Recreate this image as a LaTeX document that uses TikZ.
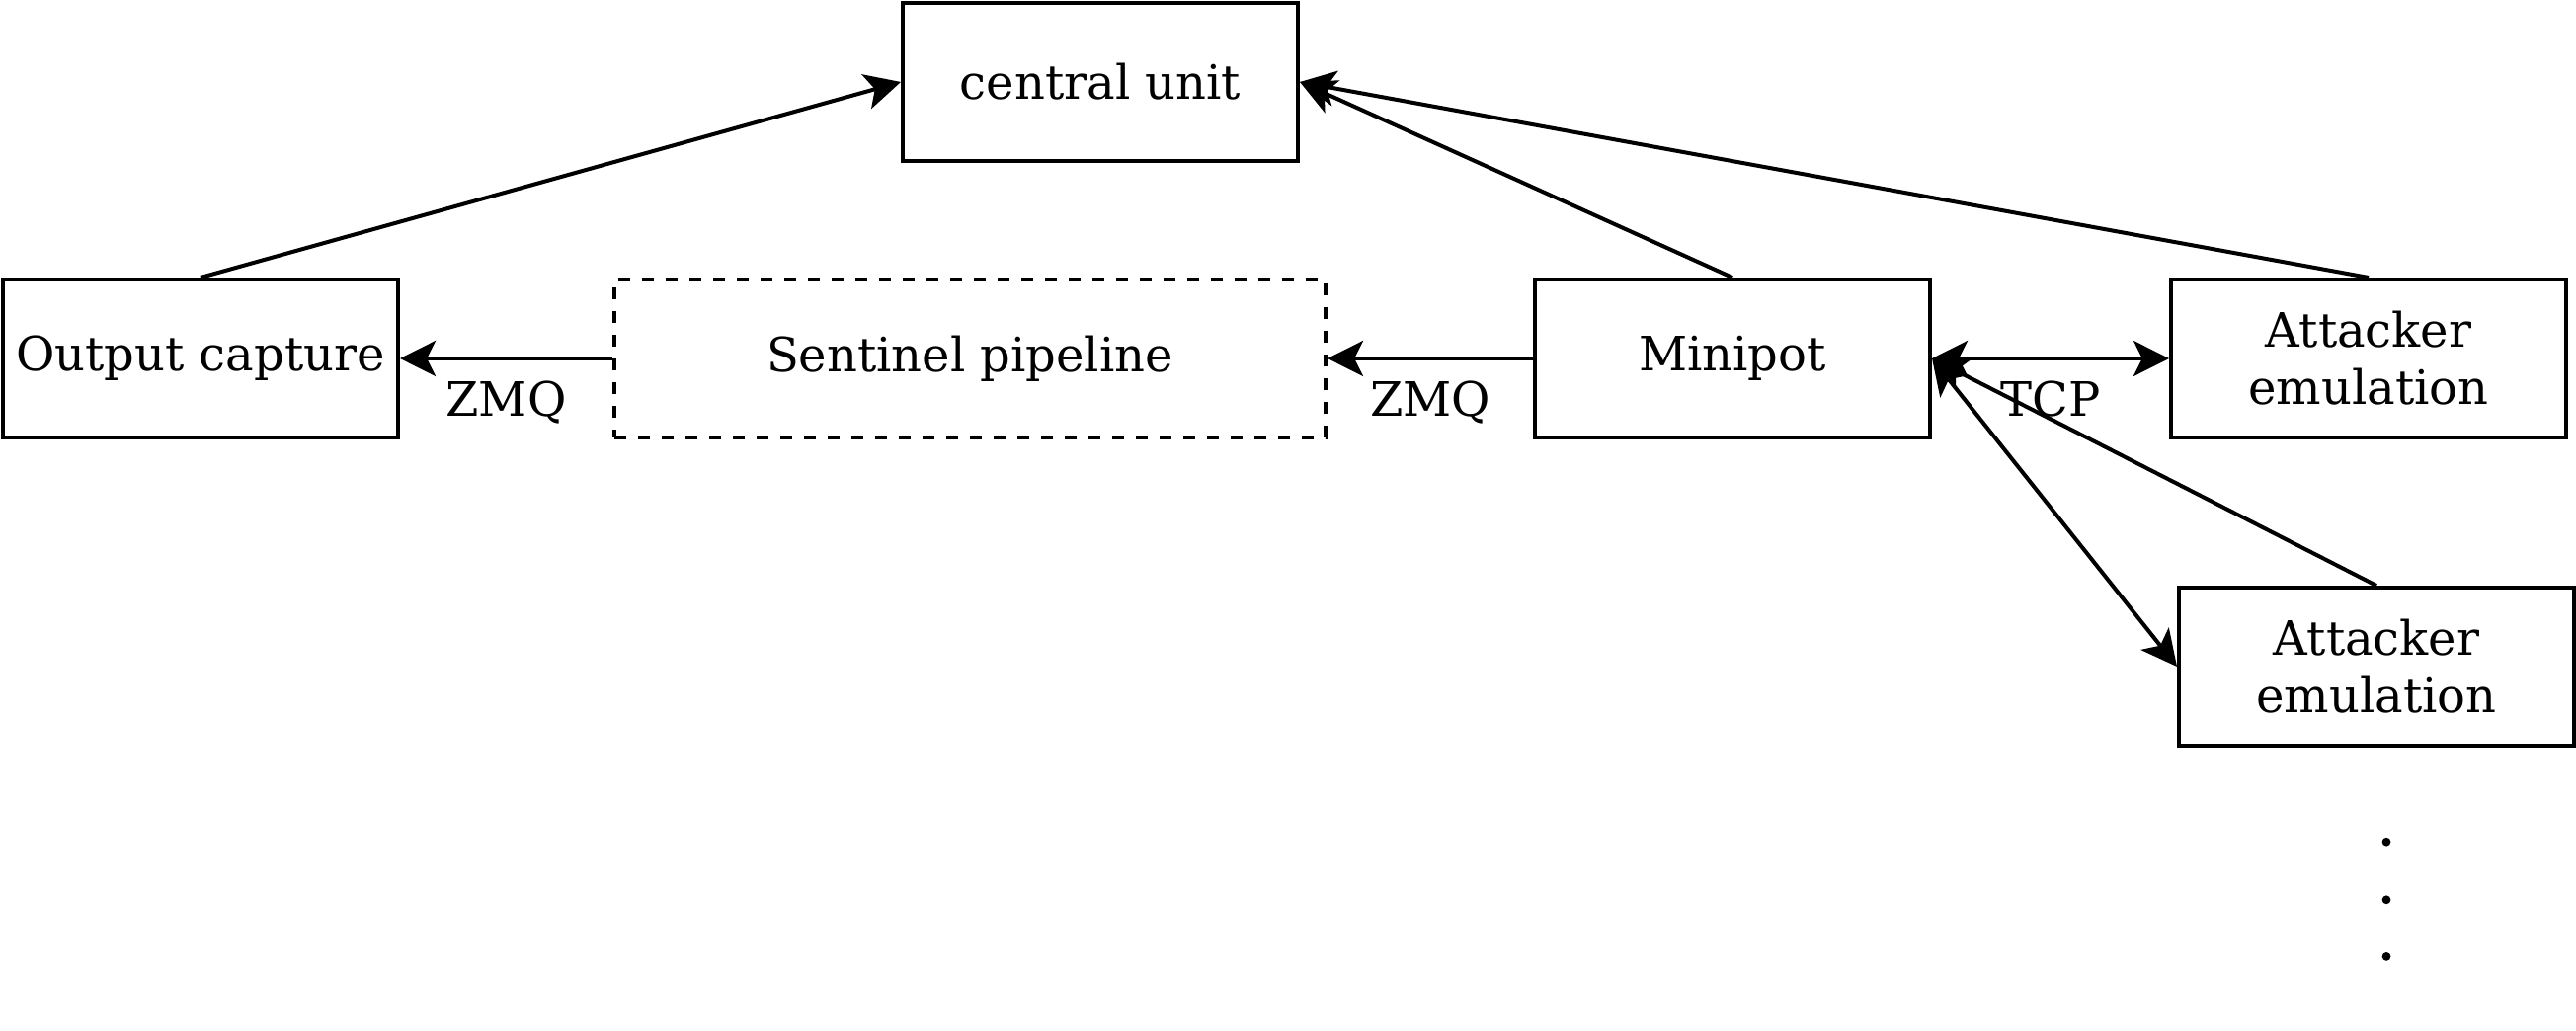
\documentclass[tikz,border=0pt]{standalone}
\usepackage{fontspec}
\setmainfont{DejaVu Serif}
\usetikzlibrary{arrows.meta}

\begin{document}
\begin{tikzpicture}[x=1pt, y=-1pt, line width=1pt, font=\fontsize{12}{14.5}\selectfont,
                    >={Stealth[length=9pt, width=9pt, inset=2.2pt]},
                    box/.style={draw, minimum width=100pt, minimum height=40pt, align=center, inner sep=0pt},
                    pipebox/.style={box, minimum width=180pt, dash pattern=on 3pt off 3pt},
                    proto/.style={below, inner sep=5.2pt}]
                        \useasboundingbox (0,0) rectangle (652,261);
                        \node[box] (central) at (278.5,20.75) {central unit};
                        \node[box] (outcap) at (50.75,90.75) {Output capture};
                        \node[pipebox] (sentinel) at (245.5,90.75) {Sentinel pipeline};
                        \node[box] (minipot) at (438.5,90.75) {Minipot};
                        \node[box] (attackA) at (599.5,90.75) {Attacker\\emulation};
                        \node[box] (attackB) at (601.5,168.75) {Attacker\\emulation};
                        \draw[->] (outcap.north) -- (central.west);
                        \draw[->] (minipot.north) -- (central.east);
                        \draw[->] (attackA.north) -- (central.east);
                        \draw[->] (sentinel.west) -- node[proto] {ZMQ} (outcap.east);
                        \draw[->] (minipot.west) -- node[proto] {ZMQ} (sentinel.east);
                        \draw[<->] (minipot.east) -- node[proto] {TCP} (attackA.west);
                        \draw[->] (attackB.north) -- (minipot.east);
                        \draw[<->] (minipot.east) -- (attackB.west);
                        \foreach \y in {213.3, 227.7, 242.1}
                            \fill (604,\y) circle (1.1pt);
                    \end{tikzpicture}
\end{document}
